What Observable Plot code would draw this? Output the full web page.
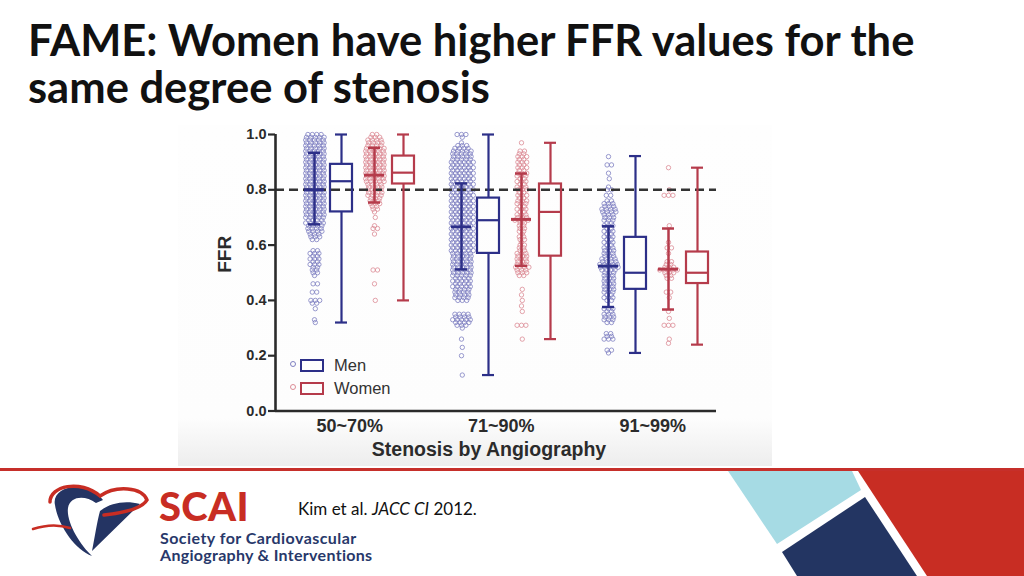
<!DOCTYPE html>
<html><head><meta charset="utf-8">
<script src="https://cdn.jsdelivr.net/npm/d3@7"></script>
<script src="https://cdn.jsdelivr.net/npm/@observablehq/plot@0.6"></script>
<style>
html,body{margin:0;padding:0;background:#fff;}
body{width:1024px;height:576px;position:relative;overflow:hidden;}
#title{position:absolute;left:28px;top:16px;margin:0;font-family:Lato,"Open Sans",sans-serif;font-weight:bold;font-size:43.5px;line-height:47px;color:#111;white-space:nowrap;}
#chartbg{position:absolute;left:178px;top:125px;width:594px;height:341px;background:linear-gradient(to bottom,#fefefe 0%,#fdfdfd 86%,#ededed 100%);}
#chart{position:absolute;left:178px;top:125px;}
#chart svg{overflow:visible;}
#chart g[aria-label="y-axis tick"] path, #chart g[aria-label="y-axis"] line{stroke-width:2.2px;}
.leg{position:absolute;font-family:"Liberation Sans",Arial,sans-serif;font-size:16.5px;color:#333;line-height:20px;}
#redline{position:absolute;left:0;top:468px;width:1024px;height:3px;background:#c62f2a;}
#deco{position:absolute;left:0;top:0;}
.foot{position:absolute;font-family:Lato,"Open Sans",sans-serif;line-height:1;white-space:nowrap;}
</style></head>
<body>
<div id="chartbg"></div>
<h1 id="title">FAME: Women have higher FFR values for the<br>same degree of stenosis</h1>
<div id="chart"></div>
<div id="legend"></div>
<div id="redline"></div>
<svg id="deco" width="1024" height="576" viewBox="0 0 1024 576">
  <polygon points="728,471 852,471 861,490 777,544" fill="#a6dbe4"/>
  <polygon points="865,497 917,576 797,576 782,552" fill="#233562"/>
  <polygon points="858,471 1024,471 1024,576 927,576" fill="#c82d23"/>
  <path d="M55 505 C52 492,68 484,85 488 C95 490,100 496,103 500 L96 503 C85 495,70 496,68 508 C66 522,80 545,92 556 C75 550,58 525,55 505 Z" fill="#243463"/>
  <path d="M100 511 C110 503,125 500,140 504 L92 551 C95 536,97 522,100 511 Z" fill="#243463"/>
  <path d="M50 502 C50 486,80 479,100 496 C116 485,142 487,147 500 C142 509,122 513,104 515" fill="none" stroke="#c82d23" stroke-width="3.5" stroke-linecap="round"/>
  <path d="M33 529 C45 525,58 524,70 528" fill="none" stroke="#c82d23" stroke-width="2.5" stroke-linecap="round"/>
</svg>
<div class="foot" style="left:159px;top:486px;font-size:40px;font-weight:900;color:#c82d23;letter-spacing:0.3px;">SCAI</div>
<div class="foot" style="left:160px;top:530px;font-size:16px;font-weight:bold;color:#28386a;letter-spacing:0.45px;">Society for Cardiovascular</div>
<div class="foot" style="left:160px;top:547px;font-size:16px;font-weight:bold;color:#28386a;letter-spacing:0.3px;">Angiography &amp; Interventions</div>
<div class="foot" style="left:298px;top:500px;font-size:17px;color:#111;">Kim et al. <i>JACC CI</i> 2012.</div>
<script>
// ---------- data ----------
const groups = ["50~70%", "71~90%", "91~99%"];
const yTicks = [0, 0.2, 0.4, 0.6, 0.8, 1.0];
const cutoff = 0.8;

// scatter columns: [FFR value, number of dots at that value]
const menDots50 = [[1.00,4],[0.99,5],[0.98,5],[0.97,5],[0.96,5],[0.95,5],[0.94,5],[0.93,5],[0.92,5],[0.91,5],[0.90,5],[0.89,5],[0.88,5],[0.87,5],[0.86,5],[0.85,5],[0.84,5],[0.83,5],[0.82,5],[0.81,5],[0.80,5],[0.79,5],[0.78,5],[0.77,5],[0.76,5],[0.75,5],[0.74,5],[0.73,5],[0.72,5],[0.71,5],[0.70,5],[0.69,4],[0.68,5],[0.67,4],[0.66,4],[0.65,4],[0.64,3],[0.63,3],[0.62,2],[0.58,2],[0.57,3],[0.56,2],[0.55,3],[0.54,2],[0.53,3],[0.52,2],[0.51,2],[0.50,2],[0.49,1],[0.46,2],[0.43,2],[0.40,3],[0.39,2],[0.37,1],[0.33,1],[0.32,1]];
const womenDots50 = [[1.00,2],[0.99,3],[0.98,4],[0.97,4],[0.96,4],[0.95,5],[0.94,5],[0.93,5],[0.92,5],[0.91,5],[0.90,5],[0.89,5],[0.88,5],[0.87,5],[0.86,5],[0.85,5],[0.84,5],[0.83,5],[0.82,4],[0.81,4],[0.80,4],[0.79,4],[0.78,4],[0.77,3],[0.76,3],[0.75,3],[0.74,2],[0.73,2],[0.72,1],[0.70,1],[0.67,1],[0.66,2],[0.64,1],[0.51,2],[0.46,1],[0.40,1]];
const menDots71 = [[1.00,3],[0.99,1],[0.97,1],[0.96,3],[0.95,4],[0.94,5],[0.93,5],[0.92,5],[0.91,5],[0.90,6],[0.89,5],[0.88,6],[0.87,5],[0.86,6],[0.85,5],[0.84,6],[0.83,5],[0.82,6],[0.81,5],[0.80,6],[0.79,5],[0.78,6],[0.77,5],[0.76,6],[0.75,5],[0.74,6],[0.73,5],[0.72,6],[0.71,5],[0.70,6],[0.69,5],[0.68,6],[0.67,5],[0.66,6],[0.65,5],[0.64,6],[0.63,5],[0.62,6],[0.61,5],[0.60,6],[0.59,5],[0.58,6],[0.57,5],[0.56,5],[0.55,5],[0.54,5],[0.53,5],[0.52,5],[0.51,5],[0.50,5],[0.49,5],[0.48,4],[0.47,5],[0.46,4],[0.45,5],[0.44,4],[0.43,4],[0.42,4],[0.41,4],[0.40,3],[0.35,4],[0.34,4],[0.33,5],[0.32,4],[0.31,3],[0.30,1],[0.26,1],[0.23,1],[0.20,1],[0.13,1]];
const womenDots71 = [[0.97,1],[0.94,2],[0.93,2],[0.92,3],[0.91,2],[0.90,3],[0.89,2],[0.88,3],[0.87,2],[0.86,3],[0.85,3],[0.84,2],[0.83,3],[0.82,2],[0.81,3],[0.80,3],[0.79,2],[0.78,3],[0.77,2],[0.76,3],[0.75,3],[0.74,2],[0.73,3],[0.72,2],[0.71,3],[0.70,3],[0.69,4],[0.68,2],[0.67,2],[0.66,2],[0.65,2],[0.64,1],[0.63,2],[0.62,2],[0.61,1],[0.60,2],[0.59,2],[0.58,2],[0.57,3],[0.56,3],[0.55,3],[0.54,3],[0.53,3],[0.52,4],[0.51,3],[0.50,3],[0.49,2],[0.44,1],[0.42,1],[0.40,1],[0.38,1],[0.36,1],[0.31,3],[0.26,1]];
const menDots91 = [[0.92,1],[0.89,2],[0.86,1],[0.84,1],[0.81,1],[0.80,2],[0.78,2],[0.76,2],[0.75,3],[0.74,3],[0.73,4],[0.72,4],[0.71,3],[0.70,3],[0.69,3],[0.68,2],[0.67,3],[0.66,2],[0.65,3],[0.64,2],[0.63,3],[0.62,2],[0.61,3],[0.60,2],[0.59,3],[0.58,3],[0.57,3],[0.56,3],[0.55,4],[0.54,4],[0.53,5],[0.52,5],[0.51,4],[0.50,3],[0.49,3],[0.48,3],[0.47,3],[0.46,3],[0.45,3],[0.44,3],[0.43,3],[0.42,2],[0.41,3],[0.40,2],[0.37,3],[0.36,2],[0.35,3],[0.34,3],[0.33,3],[0.32,2],[0.28,2],[0.27,2],[0.26,3],[0.22,2],[0.21,1]];
const womenDots91 = [[0.88,1],[0.80,1],[0.78,3],[0.67,1],[0.61,1],[0.59,2],[0.57,1],[0.54,2],[0.53,2],[0.52,3],[0.51,5],[0.50,3],[0.49,2],[0.48,2],[0.43,2],[0.41,1],[0.36,1],[0.335,1],[0.31,3],[0.26,1],[0.245,1]];

// mean ± SD bars drawn on the scatter columns
const menMean = [0.80, 0.666, 0.524];
const menSdLow = [0.675, 0.512, 0.376];
const menSdHigh = [0.934, 0.823, 0.668];
const womenMean = [0.853, 0.693, 0.513];
const womenSdLow = [0.754, 0.525, 0.367];
const womenSdHigh = [0.952, 0.859, 0.660];

// box plots
const menMin = [0.32, 0.13, 0.21];
const menQ1 = [0.72, 0.57, 0.44];
const menMed = [0.831, 0.69, 0.50];
const menQ3 = [0.892, 0.77, 0.628];
const menMax = [1.00, 1.00, 0.922];
const womenMin = [0.40, 0.26, 0.24];
const womenQ1 = [0.821, 0.56, 0.461];
const womenMed = [0.862, 0.72, 0.50];
const womenQ3 = [0.922, 0.821, 0.575];
const womenMax = [1.00, 0.97, 0.88];

// ---------- layout ----------
const menLine = "#2c2f88", menDot = "#7f80c2";
const womenLine = "#b53b4b", womenDot = "#dc8c96";
const groupStep = 147;
const col = {menDots: 0, menBox: 27, womenDots: 60, womenBox: 89};
const xDomain = [-39, 402];
const labelStep = 151.5, labelOffset = 35.3;
const dotGap = 4.4, boxHalf = 11, capHalf = 6, meanHalf = 10, sdCapHalf = 6;
const colX = (g, key) => g * groupStep + col[key];

function expand(rows, g, key) {
  const out = [];
  rows.forEach(([v, n], r) => {
    const shift = (r % 2) * 0.8;
    for (let i = 0; i < n; i++) out.push({x: colX(g, key) + (i - (n - 1) / 2) * dotGap + shift, y: v});
  });
  return out;
}
const menDots = [menDots50, menDots71, menDots91].flatMap((r, g) => expand(r, g, "menDots"));
const womenDots = [womenDots50, womenDots71, womenDots91].flatMap((r, g) => expand(r, g, "womenDots"));

const boxes = groups.flatMap((name, g) => [
  {x: colX(g, "menBox"), min: menMin[g], q1: menQ1[g], med: menMed[g], q3: menQ3[g], max: menMax[g], c: menLine},
  {x: colX(g, "womenBox"), min: womenMin[g], q1: womenQ1[g], med: womenMed[g], q3: womenQ3[g], max: womenMax[g], c: womenLine}
]);
const sds = groups.flatMap((name, g) => [
  {x: colX(g, "menDots"), m: menMean[g], lo: menSdLow[g], hi: menSdHigh[g], c: menLine},
  {x: colX(g, "womenDots"), m: womenMean[g], lo: womenSdLow[g], hi: womenSdHigh[g], c: womenLine}
]);

const ink = "#2b2b2b";
const chart = Plot.plot({
  width: 594, height: 341,
  marginLeft: 97, marginRight: 56, marginTop: 9, marginBottom: 55.5,
  style: {fontFamily: "Liberation Sans, Arial, sans-serif", fontSize: "14.5px", fontWeight: "bold", color: ink, background: "transparent"},
  x: {domain: xDomain, axis: null},
  y: {domain: [0, 1], ticks: yTicks, tickFormat: d3.format(".1f"), tickSize: 7, tickPadding: 2, label: null},
  color: {type: "identity"},
  marks: [
    Plot.dot(menDots, {x: "x", y: "y", r: 2.2, stroke: menDot, strokeWidth: 0.8, fill: "none"}),
    Plot.dot(womenDots, {x: "x", y: "y", r: 2.2, stroke: womenDot, strokeWidth: 0.8, fill: "none"}),
    Plot.ruleY([cutoff], {stroke: "#333", strokeWidth: 2.6, strokeDasharray: "9,5"}),
    // boxes
    Plot.rect(boxes, {x1: d => d.x - boxHalf, x2: d => d.x + boxHalf, y1: "q1", y2: "q3", stroke: "c", strokeWidth: 2.2, fill: "none"}),
    Plot.ruleY(boxes, {y: "med", x1: d => d.x - boxHalf, x2: d => d.x + boxHalf, stroke: "c", strokeWidth: 2.2}),
    Plot.ruleX(boxes, {x: "x", y1: "q3", y2: "max", stroke: "c", strokeWidth: 2.2}),
    Plot.ruleX(boxes, {x: "x", y1: "min", y2: "q1", stroke: "c", strokeWidth: 2.2}),
    Plot.ruleY(boxes, {y: "max", x1: d => d.x - capHalf, x2: d => d.x + capHalf, stroke: "c", strokeWidth: 2.2}),
    Plot.ruleY(boxes, {y: "min", x1: d => d.x - capHalf, x2: d => d.x + capHalf, stroke: "c", strokeWidth: 2.2}),
    // mean ± SD
    Plot.ruleX(sds, {x: "x", y1: "lo", y2: "hi", stroke: "c", strokeWidth: 2.5}),
    Plot.ruleY(sds, {y: "m", x1: d => d.x - meanHalf, x2: d => d.x + meanHalf, stroke: "c", strokeWidth: 3}),
    Plot.ruleY(sds, {y: "lo", x1: d => d.x - sdCapHalf, x2: d => d.x + sdCapHalf, stroke: "c", strokeWidth: 2.5}),
    Plot.ruleY(sds, {y: "hi", x1: d => d.x - sdCapHalf, x2: d => d.x + sdCapHalf, stroke: "c", strokeWidth: 2.5}),
    // axis lines
    Plot.ruleX([xDomain[0]], {y1: 0, y2: 1, stroke: ink, strokeWidth: 2.6}),
    Plot.ruleY([0], {x1: xDomain[0], x2: xDomain[1], stroke: ink, strokeWidth: 2.6}),
    // group labels and axis titles
    Plot.text(groups, {x: (d, i) => i * labelStep + labelOffset, y: 0, dy: 15.5, text: d => d, fontSize: 18, fontWeight: "bold", fill: ink}),
    Plot.text(["Stenosis by Angiography"], {frameAnchor: "bottom", dx: -7, dy: 44.5, text: d => d, fontSize: 19.5, fontWeight: "bold", fill: ink}),
    Plot.text(["FFR"], {frameAnchor: "left", dx: -51, rotate: -90, text: d => d, fontSize: 19, fontWeight: "bold", fill: ink})
  ]
});
document.getElementById("chart").appendChild(chart);

// legend (inside the plot area, lower left)
const legendItems = [
  {label: "Men", line: menLine, dot: menDot, top: 357},
  {label: "Women", line: womenLine, dot: womenDot, top: 380}
];
const legend = document.getElementById("legend");
for (const it of legendItems) {
  const row = document.createElement("div");
  row.innerHTML =
    `<span style="position:absolute;left:289.5px;top:${it.top + 3.5}px;width:4px;height:4px;border:1px solid ${it.dot};border-radius:50%;"></span>` +
    `<span style="position:absolute;left:299.5px;top:${it.top + 1.5}px;width:20px;height:9px;border:2px solid ${it.line};"></span>` +
    `<span class="leg" style="left:334px;top:${it.top - 2}px;">${it.label}</span>`;
  legend.appendChild(row);
}
</script>
</body></html>
